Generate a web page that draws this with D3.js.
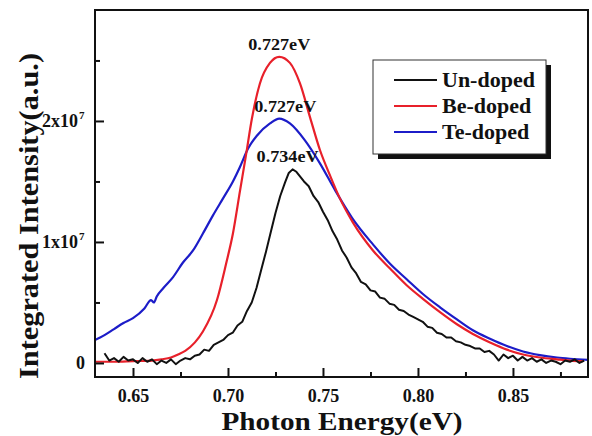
<!DOCTYPE html>
<html>
<head>
<meta charset="utf-8">
<script src="https://cdn.jsdelivr.net/npm/d3@7"></script>
<style>
  body { margin: 0; background: #fff; }
  text { font-family: "Liberation Serif", "Times New Roman", serif; font-weight: bold; fill: #111; }
</style>
</head>
<body>
<svg id="chart" width="592" height="436"></svg>
<script>
// Integrated PL intensity (in units of 1e7 a.u.) versus photon energy (eV)
const undoped = [
  [0.6350,0.08],[0.6375,0.02],[0.6400,0.04],[0.6425,0.01],[0.6450,0.05],[0.6475,0.02],
  [0.6500,0.03],[0.6525,0.00],[0.6550,0.04],[0.6575,0.01],[0.6600,0.03],[0.6625,-0.01],
  [0.6650,0.02],[0.6675,0.00],[0.6700,0.03],[0.6725,-0.01],[0.6750,0.02],[0.6775,0.04],
  [0.6800,0.03],[0.6825,0.06],[0.6850,0.07],[0.6875,0.11],[0.6900,0.10],[0.6925,0.15],
  [0.6950,0.17],[0.6975,0.19],[0.7000,0.23],[0.7025,0.25],[0.7050,0.31],[0.7075,0.34],
  [0.7100,0.43],[0.7125,0.50],[0.7150,0.62],[0.7175,0.77],[0.7200,0.92],[0.7225,1.08],
  [0.7250,1.24],[0.7275,1.38],[0.7300,1.49],[0.7320,1.57],[0.7340,1.60],[0.7360,1.58],
  [0.7380,1.54],[0.7400,1.50],[0.7425,1.46],[0.7450,1.38],[0.7475,1.33],[0.7500,1.25],
  [0.7525,1.18],[0.7550,1.09],[0.7575,1.02],[0.7600,0.93],[0.7625,0.87],[0.7650,0.79],
  [0.7675,0.74],[0.7700,0.67],[0.7725,0.65],[0.7750,0.60],[0.7775,0.59],[0.7800,0.54],
  [0.7825,0.53],[0.7850,0.49],[0.7875,0.48],[0.7900,0.44],[0.7925,0.43],[0.7950,0.40],
  [0.7975,0.38],[0.8000,0.36],[0.8025,0.34],[0.8050,0.30],[0.8075,0.29],[0.8100,0.25],
  [0.8125,0.24],[0.8150,0.21],[0.8175,0.21],[0.8200,0.18],[0.8225,0.17],[0.8250,0.15],
  [0.8275,0.14],[0.8300,0.12],[0.8325,0.12],[0.8350,0.09],[0.8375,0.10],[0.8400,0.07],
  [0.8425,0.02],[0.8450,0.07],[0.8475,0.04],[0.8500,0.06],[0.8525,0.02],[0.8550,0.05],
  [0.8575,0.02],[0.8600,0.04],[0.8625,0.01],[0.8650,0.03],[0.8675,0.00],[0.8700,0.02],
  [0.8725,0.01],[0.8750,-0.01],[0.8775,0.02],[0.8800,0.01],[0.8825,0.03],[0.8850,0.00],
  [0.8875,0.02]
];

const beDoped = [
  [0.6300,0.010],[0.6400,0.010],[0.6500,0.015],[0.6600,0.020],[0.6650,0.030],[0.6700,0.045],
  [0.6737,0.07],[0.6775,0.10],[0.6826,0.17],[0.6868,0.26],[0.6942,0.52],[0.6990,0.82],
  [0.7026,1.07],[0.7063,1.42],[0.7095,1.72],[0.7126,2.02],[0.7168,2.31],[0.7221,2.48],
  [0.7270,2.53],[0.7326,2.48],[0.7379,2.31],[0.7432,2.03],[0.7484,1.76],[0.7537,1.55],
  [0.7589,1.36],[0.7658,1.16],[0.7763,0.93],[0.7853,0.78],[0.7942,0.64],[0.8026,0.53],
  [0.8116,0.42],[0.8205,0.32],[0.8289,0.24],[0.8379,0.17],[0.8468,0.11],[0.8553,0.07],
  [0.8642,0.045],[0.8732,0.03],[0.8800,0.02],[0.8868,0.015]
];

const teDoped = [
  [0.6300,0.19],[0.6350,0.23],[0.6400,0.28],[0.6450,0.33],[0.6500,0.37],[0.6560,0.45],
  [0.6595,0.52],[0.6610,0.50],[0.6625,0.55],[0.6660,0.62],[0.6711,0.71],[0.6763,0.83],
  [0.6816,0.93],[0.6868,1.07],[0.6921,1.22],[0.6974,1.36],[0.7026,1.50],[0.7063,1.62],
  [0.7105,1.77],[0.7153,1.88],[0.7221,1.98],[0.7270,2.02],[0.7326,1.98],[0.7405,1.84],
  [0.7484,1.65],[0.7563,1.43],[0.7653,1.20],[0.7763,0.98],[0.7853,0.82],[0.7942,0.69],
  [0.8026,0.57],[0.8116,0.46],[0.8205,0.36],[0.8289,0.27],[0.8379,0.20],[0.8468,0.14],
  [0.8553,0.095],[0.8642,0.065],[0.8732,0.045],[0.8800,0.035],[0.8895,0.025]
];

const seriesNames = ["Un-doped", "Be-doped", "Te-doped"];
const seriesColors = ["#111111", "#e8202a", "#1c1cc8"];
const peakEnergies = [0.734, 0.727, 0.727];   // Un, Be, Te
const peakTexts = ["0.734eV", "0.727eV", "0.727eV"];

const xMajorTicks = [0.65, 0.70, 0.75, 0.80, 0.85];
const xMinorTicks = [0.675, 0.725, 0.775, 0.825, 0.875];
const yMajorTicks = [0, 1, 2];        // multiples of 1e7
const yMinorTicks = [0.5, 1.5, 2.5];
const yTickLabels = [["0", ""], ["1x10", "7"], ["2x10", "7"]];

const svg = d3.select("#chart");
const plot = { left: 95, top: 10, right: 588, bottom: 377 };

const x = d3.scaleLinear().domain([0.63, 0.8895]).range([plot.left, plot.right]);
const y = d3.scaleLinear().domain([-0.116, 2.917]).range([plot.bottom, plot.top]);

svg.append("defs").append("clipPath").attr("id", "plotClip")
  .append("rect")
  .attr("x", plot.left).attr("y", plot.top)
  .attr("width", plot.right - plot.left).attr("height", plot.bottom - plot.top);

// Curves
const smoothLine = d3.line().x(d => x(d[0])).y(d => y(d[1])).curve(d3.curveMonotoneX);
const noisyLine = d3.line().x(d => x(d[0])).y(d => y(d[1])).curve(d3.curveLinear);

const curves = svg.append("g").attr("clip-path", "url(#plotClip)")
  .attr("fill", "none").attr("stroke-width", 2.2).attr("stroke-linejoin", "round");

curves.append("path").datum(teDoped).attr("d", smoothLine).attr("stroke", seriesColors[2]);
curves.append("path").datum(beDoped).attr("d", smoothLine).attr("stroke", seriesColors[1]);
curves.append("path").datum(undoped).attr("d", noisyLine).attr("stroke", seriesColors[0]).attr("stroke-width", 2);

// Axes with inward ticks
const xAxisMajor = d3.axisBottom(x).tickValues(xMajorTicks).tickSize(-9).tickPadding(12)
  .tickFormat(d3.format(".2f"));
const xAxisMinor = d3.axisBottom(x).tickValues(xMinorTicks).tickSize(-5).tickFormat("");
const yAxisMajor = d3.axisLeft(y).tickValues(yMajorTicks).tickSize(-9).tickFormat("");
const yAxisMinor = d3.axisLeft(y).tickValues(yMinorTicks).tickSize(-5).tickFormat("");

function styleAxis(g) {
  g.select(".domain").remove();
  g.selectAll(".tick line").attr("stroke", "#111").attr("stroke-width", 2);
}

const gx = svg.append("g").attr("transform", `translate(0,${plot.bottom})`).call(xAxisMajor).call(styleAxis);
gx.selectAll(".tick text").attr("font-size", 18).attr("font-family", null).attr("fill", "#111");
svg.append("g").attr("transform", `translate(0,${plot.bottom})`).call(xAxisMinor).call(styleAxis);
svg.append("g").attr("transform", `translate(${plot.left},0)`).call(yAxisMajor).call(styleAxis);
svg.append("g").attr("transform", `translate(${plot.left},0)`).call(yAxisMinor).call(styleAxis);

// Y tick labels with superscript exponent
yMajorTicks.forEach((v, i) => {
  const [base, sup] = yTickLabels[i];
  svg.append("text")
    .attr("x", sup ? 78 : 85).attr("y", y(v) + 6)
    .attr("text-anchor", "end").attr("font-size", 18)
    .text(base);
  if (sup) {
    svg.append("text").attr("x", 79).attr("y", y(v) - 2)
      .attr("font-size", 11).text(sup);
  }
});

// Frame
svg.append("rect")
  .attr("x", plot.left).attr("y", plot.top)
  .attr("width", plot.right - plot.left).attr("height", plot.bottom - plot.top)
  .attr("fill", "none").attr("stroke", "#111").attr("stroke-width", 2);

// Peak annotations
const peakSeries = [undoped, beDoped, teDoped];
const peakDx = [-5, 0, 6];
peakSeries.forEach((s, i) => {
  const peakVal = d3.max(s, d => d[1]);
  svg.append("text")
    .attr("x", x(peakEnergies[i]) + peakDx[i])
    .attr("y", y(peakVal) - 7)
    .attr("text-anchor", "middle").attr("font-size", 17)
    .attr("textLength", 62).attr("lengthAdjust", "spacingAndGlyphs")
    .text(peakTexts[i]);
});

// Axis titles
svg.append("text")
  .attr("x", 342).attr("y", 430)
  .attr("text-anchor", "middle").attr("font-size", 25)
  .attr("textLength", 241).attr("lengthAdjust", "spacingAndGlyphs")
  .text("Photon Energy(eV)");

svg.append("text")
  .attr("transform", "translate(38,216) rotate(-90)")
  .attr("text-anchor", "middle").attr("font-size", 27)
  .attr("textLength", 326).attr("lengthAdjust", "spacingAndGlyphs")
  .text("Integrated Intensity(a.u.)");

// Legend with drop shadow
const legend = { x: 373, y: 60, w: 173, h: 94 };
svg.append("rect").attr("x", legend.x + 5).attr("y", legend.y + 5)
  .attr("width", legend.w).attr("height", legend.h).attr("fill", "#111");
svg.append("rect").attr("x", legend.x).attr("y", legend.y)
  .attr("width", legend.w).attr("height", legend.h)
  .attr("fill", "#fff").attr("stroke", "#333").attr("stroke-width", 1);

const rowY = [80, 106, 132];
seriesNames.forEach((name, i) => {
  svg.append("line")
    .attr("x1", 394).attr("x2", 437).attr("y1", rowY[i]).attr("y2", rowY[i])
    .attr("stroke", seriesColors[i]).attr("stroke-width", 2.2);
  svg.append("text")
    .attr("x", 442).attr("y", rowY[i] + 7)
    .attr("font-size", 22).text(name);
});
</script>
</body>
</html>
